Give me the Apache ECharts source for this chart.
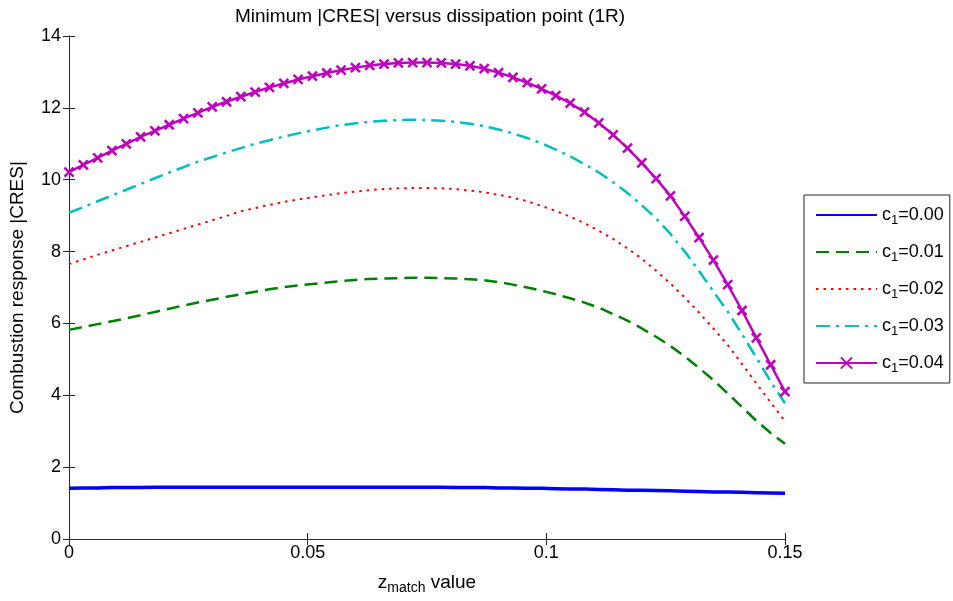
<!DOCTYPE html>
<html>
<head>
<meta charset="utf-8">
<script src="https://cdn.jsdelivr.net/npm/echarts@6/dist/echarts.min.js"></script>
<style>
  html, body { margin: 0; padding: 0; background: #fff; }
  #chart { width: 953px; height: 601px; }
</style>
</head>
<body>
<div id="chart"></div>
<script>
// z_match values
var zMatch = [0, 0.003, 0.006, 0.009, 0.012, 0.015, 0.018, 0.021, 0.024, 0.027,
  0.030, 0.033, 0.036, 0.039, 0.042, 0.045, 0.048, 0.051, 0.054, 0.057,
  0.060, 0.063, 0.066, 0.069, 0.072, 0.075, 0.078, 0.081, 0.084, 0.087,
  0.090, 0.093, 0.096, 0.099, 0.102, 0.105, 0.108, 0.111, 0.114, 0.117,
  0.120, 0.123, 0.126, 0.129, 0.132, 0.135, 0.138, 0.141, 0.144, 0.147, 0.150];

var seriesNames = ['c1=0.00', 'c1=0.01', 'c1=0.02', 'c1=0.03', 'c1=0.04'];

var cres000 = [1.41, 1.42, 1.42, 1.43, 1.43, 1.43, 1.44, 1.44, 1.44, 1.44,
  1.44, 1.44, 1.44, 1.44, 1.44, 1.44, 1.44, 1.44, 1.44, 1.44,
  1.44, 1.44, 1.44, 1.44, 1.44, 1.44, 1.44, 1.43, 1.43, 1.43,
  1.42, 1.42, 1.41, 1.41, 1.40, 1.39, 1.39, 1.38, 1.37, 1.36,
  1.36, 1.35, 1.34, 1.33, 1.32, 1.31, 1.31, 1.30, 1.29, 1.28, 1.27];

var cres001 = [5.82, 5.90, 5.98, 6.06, 6.14, 6.23, 6.32, 6.41, 6.50, 6.58,
  6.66, 6.74, 6.81, 6.88, 6.95, 7.01, 7.06, 7.10, 7.14, 7.18,
  7.21, 7.24, 7.25, 7.26, 7.27, 7.27, 7.26, 7.25, 7.23, 7.20,
  7.15, 7.08, 7.00, 6.91, 6.81, 6.70, 6.58, 6.44, 6.26, 6.08,
  5.86, 5.63, 5.37, 5.08, 4.76, 4.42, 4.05, 3.67, 3.29, 2.95, 2.65];

var cres002 = [7.65, 7.78, 7.91, 8.03, 8.15, 8.27, 8.39, 8.51, 8.63, 8.75,
  8.87, 8.99, 9.12, 9.21, 9.30, 9.38, 9.45, 9.51, 9.57, 9.63,
  9.67, 9.71, 9.74, 9.76, 9.77, 9.77, 9.76, 9.74, 9.70, 9.65,
  9.58, 9.50, 9.40, 9.27, 9.13, 8.97, 8.79, 8.58, 8.35, 8.09,
  7.80, 7.47, 7.11, 6.72, 6.30, 5.86, 5.40, 4.87, 4.33, 3.80, 3.28];

var cres003 = [9.08, 9.24, 9.40, 9.56, 9.72, 9.88, 10.04, 10.20, 10.35, 10.50,
  10.63, 10.76, 10.88, 11.00, 11.10, 11.20, 11.29, 11.37, 11.45, 11.52,
  11.57, 11.61, 11.64, 11.66, 11.67, 11.66, 11.64, 11.61, 11.56, 11.49,
  11.40, 11.29, 11.16, 11.01, 10.84, 10.65, 10.43, 10.20, 9.93, 9.63,
  9.29, 8.92, 8.49, 8.00, 7.46, 6.89, 6.33, 5.70, 5.05, 4.38, 3.78];

var cres004 = [10.21, 10.41, 10.61, 10.81, 11.00, 11.19, 11.36, 11.53, 11.70, 11.86,
  12.03, 12.17, 12.31, 12.44, 12.57, 12.68, 12.79, 12.88, 12.97, 13.05,
  13.12, 13.18, 13.22, 13.25, 13.26, 13.26, 13.25, 13.22, 13.17, 13.09,
  12.98, 12.85, 12.70, 12.53, 12.34, 12.13, 11.88, 11.58, 11.25, 10.88,
  10.47, 10.03, 9.55, 8.98, 8.39, 7.76, 7.08, 6.36, 5.60, 4.85, 4.10];

var xTicks = [0, 0.05, 0.1, 0.15];

function pairs(ys) {
  return zMatch.map(function (x, i) { return [x, ys[i]]; });
}

var FONT = '"Liberation Sans", Arial, sans-serif';
var AXIS_COLOR = '#262626';
var CROSS = 'path://M0,0L10,10M10,0L0,10';

var chart = echarts.init(document.getElementById('chart'), null, { renderer: 'canvas' });

var axisLine = { show: true, lineStyle: { color: AXIS_COLOR, width: 1 } };
var tickIn = { show: true, inside: true, length: 6, lineStyle: { color: AXIS_COLOR } };

// legend entries; plain lines get their circle hidden
var legendData = seriesNames.map(function (n, i) {
  if (i < 4) return { name: n, itemStyle: { opacity: 0 } };
  return { name: n };
});

chart.setOption({
  animation: false,
  backgroundColor: '#fff',
  title: {
    text: 'Minimum |CRES| versus dissipation point (1R)',
    left: 425,
    textAlign: 'center',
    top: 2,
    textStyle: { fontFamily: FONT, fontSize: 19, fontWeight: 'normal', color: '#000' }
  },
  grid: { left: 65, right: 168, top: 36, bottom: 62 },
  legend: {
    orient: 'vertical',
    left: 804,
    top: 195,
    padding: [11, 6, 8, 11],
    itemGap: 16,
    itemWidth: 61,
    itemHeight: 14,
    borderColor: AXIS_COLOR,
    borderWidth: 1,
    backgroundColor: '#fff',
    data: legendData,
    formatter: function (name) {
      return 'c{sub|1}' + name.slice(2);
    },
    textStyle: {
      fontFamily: FONT, fontSize: 18, color: '#000',
      rich: {
        sub: { fontFamily: FONT, fontSize: 13, color: '#000', padding: [11, 0, 0, 0] }
      }
    }
  },
  xAxis: [{
    type: 'value',
    min: 0, max: 0.15, interval: 0.05,
    axisLine: axisLine,
    axisTick: tickIn,
    splitLine: { show: false },
    axisLabel: {
      margin: 5, color: '#000', fontFamily: FONT, fontSize: 18,
      formatter: function (v) {
        for (var i = 0; i < xTicks.length; i++) {
          if (Math.abs(v - xTicks[i]) < 1e-9) return String(xTicks[i]);
        }
        return '';
      }
    },
    name: '{b|z}{s|match}{b| value}',
    nameLocation: 'middle',
    nameGap: 31,
    nameTextStyle: {
      rich: {
        b: { fontFamily: FONT, fontSize: 19, color: '#000' },
        s: { fontFamily: FONT, fontSize: 14, color: '#000', padding: [11, 0, 0, 0] }
      }
    }
  }, {
    type: 'value', position: 'top',
    min: 0, max: 0.15, interval: 0.05,
    axisLine: axisLine, axisTick: tickIn,
    axisLabel: { show: false }, splitLine: { show: false }
  }],
  yAxis: [{
    type: 'value',
    min: 0, max: 14, interval: 2,
    axisLine: axisLine,
    axisTick: tickIn,
    splitLine: { show: false },
    axisLabel: { margin: 8, color: '#000', fontFamily: FONT, fontSize: 18 },
    name: 'Combustion response |CRES|',
    nameLocation: 'middle',
    nameGap: 42,
    nameTextStyle: { fontFamily: FONT, fontSize: 19, color: '#000' }
  }, {
    type: 'value', position: 'right',
    min: 0, max: 14, interval: 2,
    axisLine: axisLine, axisTick: tickIn,
    axisLabel: { show: false }, splitLine: { show: false }
  }],
  series: [{
    name: seriesNames[0], type: 'line', data: pairs(cres000),
    symbol: 'none', itemStyle: { color: '#0000ff' },
    lineStyle: { color: '#0000ff', width: 3.5 }
  }, {
    name: seriesNames[1], type: 'line', data: pairs(cres001),
    symbol: 'none', itemStyle: { color: '#008000' },
    lineStyle: { color: '#008000', width: 2.5, type: [13, 7] }
  }, {
    name: seriesNames[2], type: 'line', data: pairs(cres002),
    symbol: 'none', itemStyle: { color: '#ff0000' },
    lineStyle: { color: '#ff0000', width: 2, type: [2.5, 5] }
  }, {
    name: seriesNames[3], type: 'line', data: pairs(cres003),
    symbol: 'none', itemStyle: { color: '#00bfbf' },
    lineStyle: { color: '#00bfbf', width: 2.5, type: [14, 6, 3, 6] }
  }, {
    name: seriesNames[4], type: 'line', data: pairs(cres004),
    symbol: CROSS, symbolSize: 9, showAllSymbol: true,
    itemStyle: { color: '#bf00bf', borderColor: '#bf00bf', borderWidth: 2.5 },
    lineStyle: { color: '#bf00bf', width: 2.5 },
    z: 5
  }]
});
</script>
</body>
</html>
